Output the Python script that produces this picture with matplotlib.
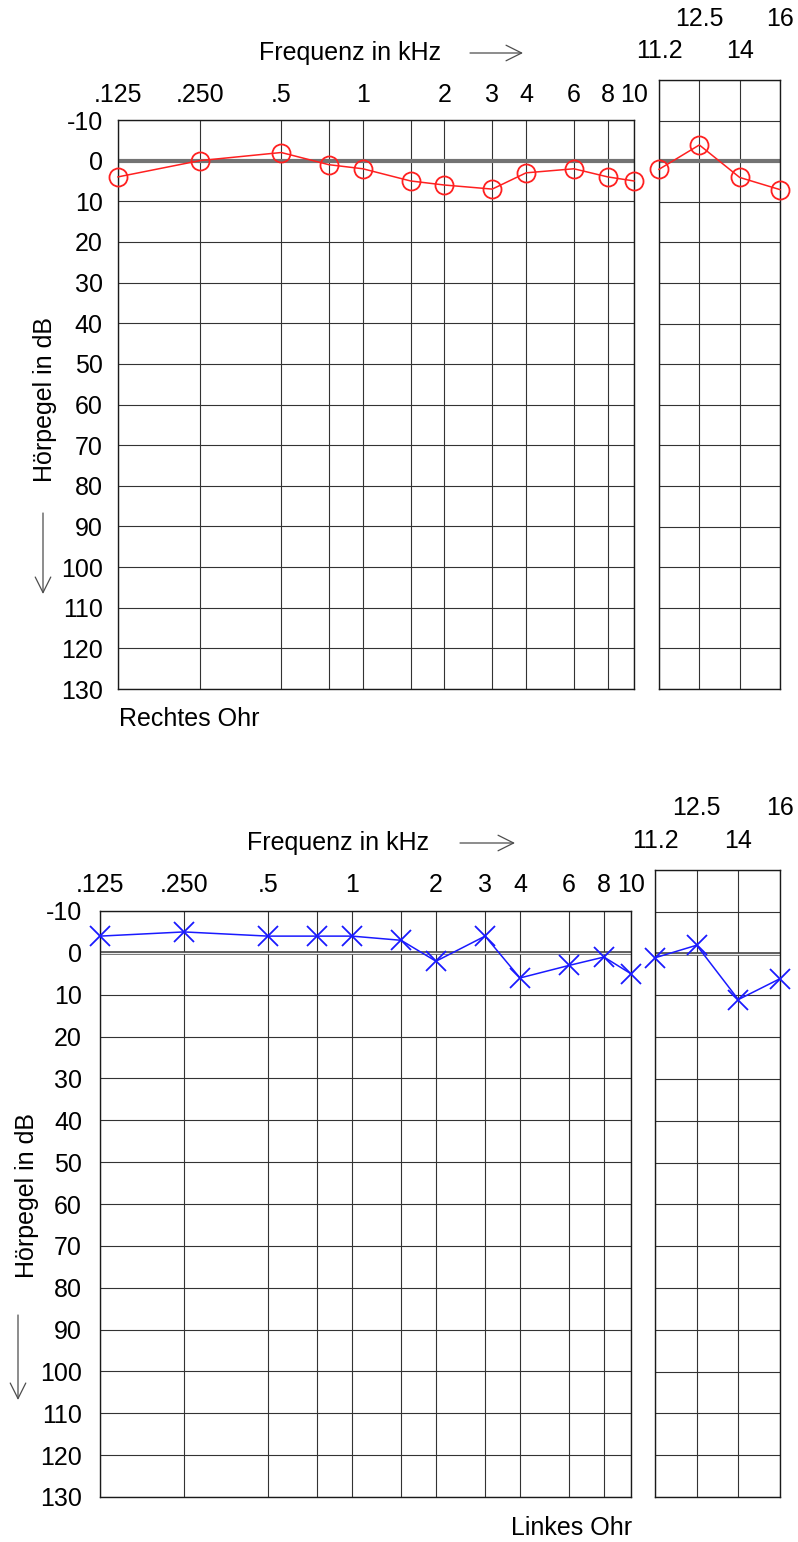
import matplotlib.pyplot as plt

plt.rcParams['font.family'] = ['Liberation Sans', 'DejaVu Sans']
plt.rcParams['font.size'] = 18
plt.rcParams['axes.unicode_minus'] = False

# Frequenzen in kHz, Hörpegel in dB
freq = [0.125, 0.25, 0.5, 0.75, 1, 1.5, 2, 3, 4, 6, 8, 10]
freq_labels = ['.125', '.250', '.5', '', '1', '', '2', '3', '4', '6', '8', '10']
hf_freq = [0, 1, 2, 3]
hf_labels = ['11.2', '12.5', '14', '16']
levels = list(range(-10, 131, 10))

rechts = [4, 0, -2, 1, 2, 5, 6, 7, 3, 2, 4, 5]
rechts_hf = [2, -4, 4, 7]
links = [-4, -5, -4, -4, -4, -3, 2, -4, 6, 3, 1, 5]
links_hf = [1, -2, 11, 6]

W, H = 798, 1542
fig = plt.figure(figsize=(W / 100, H / 100), dpi=100)


def box(l, t, r, b):
    return [l / W, 1 - b / H, (r - l) / W, (b - t) / H]


def fx(x):
    return x / W


def fy(y):
    return 1 - y / H


def grid_axes(ax):
    ax.grid(True, color='0.2', lw=0.8)
    ax.set_axisbelow(True)
    for s in ax.spines.values():
        s.set_color('0.1')
        s.set_linewidth(1.0)
    ax.xaxis.tick_top()
    ax.tick_params(length=0, labelsize=18)


def audiogram(main_box, hf_box, vals, hf_vals, color, marker, ms, double_zero,
              xpad, ypad, hf_pads):
    ax = fig.add_axes(box(*main_box))
    ax.set_xscale('log')
    ax.set_xlim(0.125, 10)
    ax.set_ylim(130, -10)
    ax.set_xticks(freq, freq_labels)
    ax.minorticks_off()
    ax.set_yticks(levels)
    grid_axes(ax)
    ax.tick_params(axis='x', pad=xpad)
    ax.tick_params(axis='y', pad=ypad)

    hx = fig.add_axes(box(*hf_box))
    hx.set_xlim(0, 3)
    hx.set_ylim(130, -20)
    hx.set_xticks(hf_freq, hf_labels)
    hx.set_yticks(list(range(-20, 131, 10)), [])
    grid_axes(hx)
    # Beschriftung der Hochtonfrequenzen versetzt in zwei Zeilen
    for i, t in enumerate(hx.xaxis.get_major_ticks()):
        t.set_pad(hf_pads[i % 2])

    for a in (ax, hx):
        if double_zero:
            a.axhline(0, color='0.25', lw=2.6, zorder=2)
            a.axhline(0, color='0.92', lw=1.0, zorder=2)
        else:
            a.axhline(0, color='0.45', lw=3.0, zorder=2)

    kw = dict(color=color, marker=marker, ms=ms, lw=1.1, mew=1.3,
              clip_on=False, zorder=3)
    if marker == 'o':
        kw['mfc'] = 'none'
    ax.plot(freq, vals, **kw)
    hx.plot(hf_freq, hf_vals, **kw)
    return ax


def arrow(x0, y0, x1, y1):
    fig.add_artist(plt.Annotation(
        '', xy=(fx(x1), fy(y1)), xytext=(fx(x0), fy(y0)),
        xycoords='figure fraction', textcoords='figure fraction',
        arrowprops=dict(arrowstyle='->', color='0.3', lw=0.9,
                        mutation_scale=28, shrinkA=0, shrinkB=0)))


# rechtes Ohr
audiogram((118, 120, 634, 689), (659, 80, 780, 689),
          rechts, rechts_hf, '#ff2020', 'o', 13, False, 9, 11, (12, 35))
fig.text(fx(350), fy(53), 'Frequenz in kHz', ha='center', va='center')
arrow(470, 53, 523, 53)
fig.text(fx(45), fy(400), 'Hörpegel in dB', rotation=90, ha='center', va='center')
arrow(43, 513, 43, 594)
fig.text(fx(119), fy(719), 'Rechtes Ohr', ha='left', va='center')

# linkes Ohr
audiogram((100, 911, 631, 1497), (655, 870, 780, 1497),
          links, links_hf, '#1a1aff', 'x', 15, True, 10, 13, (12, 36))
fig.text(fx(338), fy(843), 'Frequenz in kHz', ha='center', va='center')
arrow(460, 843, 515, 843)
fig.text(fx(27), fy(1195), 'Hörpegel in dB', rotation=90, ha='center', va='center')
arrow(18, 1315, 18, 1400)
fig.text(fx(632), fy(1528), 'Linkes Ohr', ha='right', va='center')

fig.savefig('out.png', dpi=100)
